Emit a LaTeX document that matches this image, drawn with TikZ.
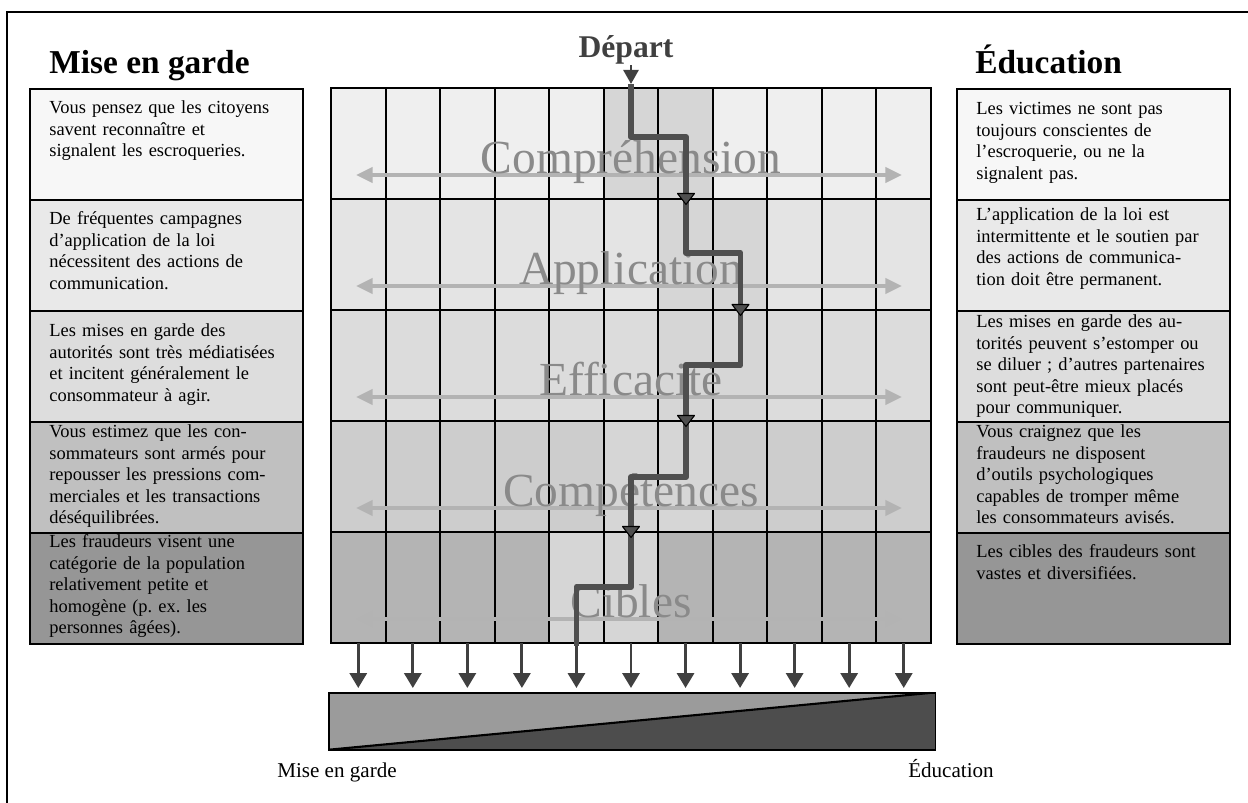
\documentclass[tikz,border=0pt]{standalone}
\usepackage{fontspec}
\setmainfont{Liberation Serif}
\usetikzlibrary{arrows.meta}
\definecolor{boxA}{HTML}{F7F7F7}
\definecolor{boxB}{HTML}{E9E9E9}
\definecolor{boxC}{HTML}{DDDDDD}
\definecolor{boxD}{HTML}{C0C0C0}
\definecolor{boxE}{HTML}{969696}
\definecolor{rowA}{HTML}{EFEFEF}
\definecolor{rowB}{HTML}{E4E4E4}
\definecolor{rowC}{HTML}{DCDCDC}
\definecolor{rowD}{HTML}{CDCDCD}
\definecolor{rowE}{HTML}{B4B4B4}
\definecolor{hilite}{HTML}{D6D6D6}
\definecolor{spreadgray}{HTML}{B3B3B3}
\definecolor{layertext}{HTML}{8A8A8A}
\definecolor{routegray}{HTML}{4F4F4F}
\definecolor{dropgray}{HTML}{404040}
\definecolor{barlight}{HTML}{9B9B9B}
\definecolor{bardark}{HTML}{4D4D4D}
\frenchspacing
\begin{document}
\begin{tikzpicture}[x=0.02cm, y=-0.02cm,
    sidebox/.style={draw, line width=1.1pt, anchor=north west, inner sep=0pt, minimum width=5.46cm, minimum height=2.22cm},
    btxt/.style={anchor=base west, inner sep=0pt, text width=5cm, align=left, font=\fontsize{10.5}{12.2}\selectfont},
    heading/.style={anchor=base west, inner sep=0pt, font=\fontsize{19}{22}\selectfont\bfseries},
    layer/.style={anchor=base, inner sep=0pt, text=layertext, font=\fontsize{27}{30}\selectfont},
    spread/.style={draw=spreadgray, line width=2.3pt, <->, >={Triangle[length=9.5pt,width=8.5pt]}},
    route/.style={draw=routegray, line width=3.4pt, line join=round},
    drop/.style={draw=dropgray, line width=1.7pt, shorten >=0.1cm, ->, >={Triangle[length=8.5pt,width=9.7pt]}},
    gridline/.style={line width=1.1pt}]
    \useasboundingbox (0,0) rectangle (1248,803);
    \clip (0,0) rectangle (1248,803);
    \draw[line width=1.1pt] (7,12) rectangle (1300,850);

    \foreach \f [count=\i] in {boxA,boxB,boxC,boxD,boxE} {
        \node[sidebox, fill=\f] (lb\i) at (29,{88+(\i-1)*111}) {};
        \node[sidebox, fill=\f] (rb\i) at (956,{88+(\i-1)*111}) {};
    }
    \node[heading] (hMise) at (49,74) {Mise en garde};
    \node[heading] (hEduc) at (975,74) {Éducation};

    \node[btxt] (lt1) at ([shift={(20,26)}]lb1.north west) {Vous pensez que les citoyens\\ savent reconnaître et\\ signalent les escroqueries.};
    \node[btxt] (lt2) at ([shift={(20,26)}]lb2.north west) {De fréquentes campagnes\\ d’application de la loi\\ nécessitent des actions de\\ communication.};
    \node[btxt] (lt3) at ([shift={(20,27)}]lb3.north west) {Les mises en garde des\\ autorités sont très médiatisées\\ et incitent généralement le\\ consommateur à agir.};
    \node[btxt] (lt4) at ([shift={(20,17)}]lb4.north west) {Vous estimez que les con-\\ sommateurs sont armés pour\\ repousser les pressions com-\\ merciales et les transactions\\ déséquilibrées.};
    \node[btxt] (lt5) at ([shift={(20,16)}]lb5.north west) {Les fraudeurs visent une\\ catégorie de la population\\ relativement petite et\\ homogène (p. ex. les\\ personnes âgées).};

    \node[btxt] (rt1) at ([shift={(20,27)}]rb1.north west) {Les victimes ne sont pas\\ toujours conscientes de\\ l’escroquerie, ou ne la\\ signalent pas.};
    \node[btxt] (rt2) at ([shift={(20,22)}]rb2.north west) {L’application de la loi est\\ intermittente et le soutien par\\ des actions de communica-\\ tion doit être permanent.};
    \node[btxt] (rt3) at ([shift={(20,18)}]rb3.north west) {Les mises en garde des au-\\ torités peuvent s’estomper ou\\ se diluer ; d’autres partenaires\\ sont peut-être mieux placés\\ pour communiquer.};
    \node[btxt] (rt4) at ([shift={(20,17)}]rb4.north west) {Vous craignez que les\\ fraudeurs ne disposent\\ d’outils psychologiques\\ capables de tromper même\\ les consommateurs avisés.};
    \node[btxt] (rt5) at ([shift={(20,26)}]rb5.north west) {Les cibles des fraudeurs sont\\ vastes et diversifiées.};

    \foreach \r/\rc/\h in {0/rowA/5,1/rowB/6,2/rowC/6,3/rowD/5,4/rowE/4} {
        \fill[\rc] (331,{88+\r*111}) rectangle (931,{199+\r*111});
        \fill[hilite] ({331+\h*600/11},{88+\r*111}) rectangle ({331+(\h+2)*600/11},{199+\r*111});
    }
    \foreach \c in {1,...,10}
        \draw[gridline] ({331+\c*600/11},88) -- ({331+\c*600/11},643);
    \foreach \r in {1,...,4}
        \draw[gridline] (331,{88+\r*111}) -- (931,{88+\r*111});
    \draw[gridline] (331,88) rectangle (931,643);

    \foreach \t [count=\r from 0] in {Compréhension,Application,Efficacité,Compétences,Cibles} {
        \coordinate (sl\r) at (356,{175+\r*111});
        \coordinate (sr\r) at (902,{175+\r*111});
        \draw[spread] (sl\r) -- (sr\r);
        \node[layer] (lay\r) at (631,{174+\r*111}) {\t};
    }

    \node[anchor=north west, inner sep=0pt, minimum width=12.12cm, minimum height=1.12cm] (bar) at (329,693) {};
    \coordinate (barpeak) at ([xshift=-0.12cm]bar.north east);
    \fill[barlight] (bar.north west) -- (barpeak) -- (bar.south west) -- cycle;
    \fill[bardark] (bar.south west) -- (barpeak) -- (bar.north east) -- (bar.south east) -- cycle;
    \draw[line width=1.2pt] (bar.south west) -- (barpeak);
    \draw[line width=1pt] (bar.north west) rectangle (bar.south east);

    \foreach \c in {0,...,10} {
        \coordinate (d\c) at ({331+(\c+0.5)*600/11},643);
        \draw[drop] (d\c) -- (d\c |- bar.north);
    }

    \coordinate (p0) at (631,84);
    \coordinate (p1) at (631,137);
    \coordinate (p2) at (686,137);
    \coordinate (p3) at (686,253);
    \coordinate (p4) at (740.5,253);
    \coordinate (p5) at (740.5,365);
    \coordinate (p6) at (686,365);
    \coordinate (p7) at (686,477);
    \coordinate (p8) at (631,477);
    \coordinate (p9) at (631,587);
    \coordinate (p10) at (576.5,587);
    \coordinate (p11) at (576.5,646);
    \draw[route] (p0) -- (p1) -- (p2) -- (p3) -- (p4) -- (p5) -- (p6) -- (p7) -- (p8) -- (p9) -- (p10) -- (p11);
    \foreach \mx/\my in {686/199, 740.5/310, 686/421, 631/532}
        \filldraw[fill=routegray, draw=black, line width=0.6pt, line join=round] (\mx,\my) ++(-8.5,-5.5) -- ++(17,0) -- ++(-8.5,11) -- cycle;

    \node[anchor=base, inner sep=0pt, text=dropgray, font=\fontsize{18}{20}\selectfont\bfseries] (depart) at (626,58) {Départ};
    \draw[dropgray, line width=1.7pt, -{Triangle[length=8pt,width=8.5pt]}] (depart.south -| p0) -- (p0);

    \node[anchor=base, inner sep=0pt, font=\fontsize{12}{14}\selectfont] (mgLabel) at (337,777) {Mise en garde};
    \node[anchor=base, inner sep=0pt, font=\fontsize{12}{14}\selectfont] (edLabel) at (951,777) {Éducation};
\end{tikzpicture}
\end{document}
